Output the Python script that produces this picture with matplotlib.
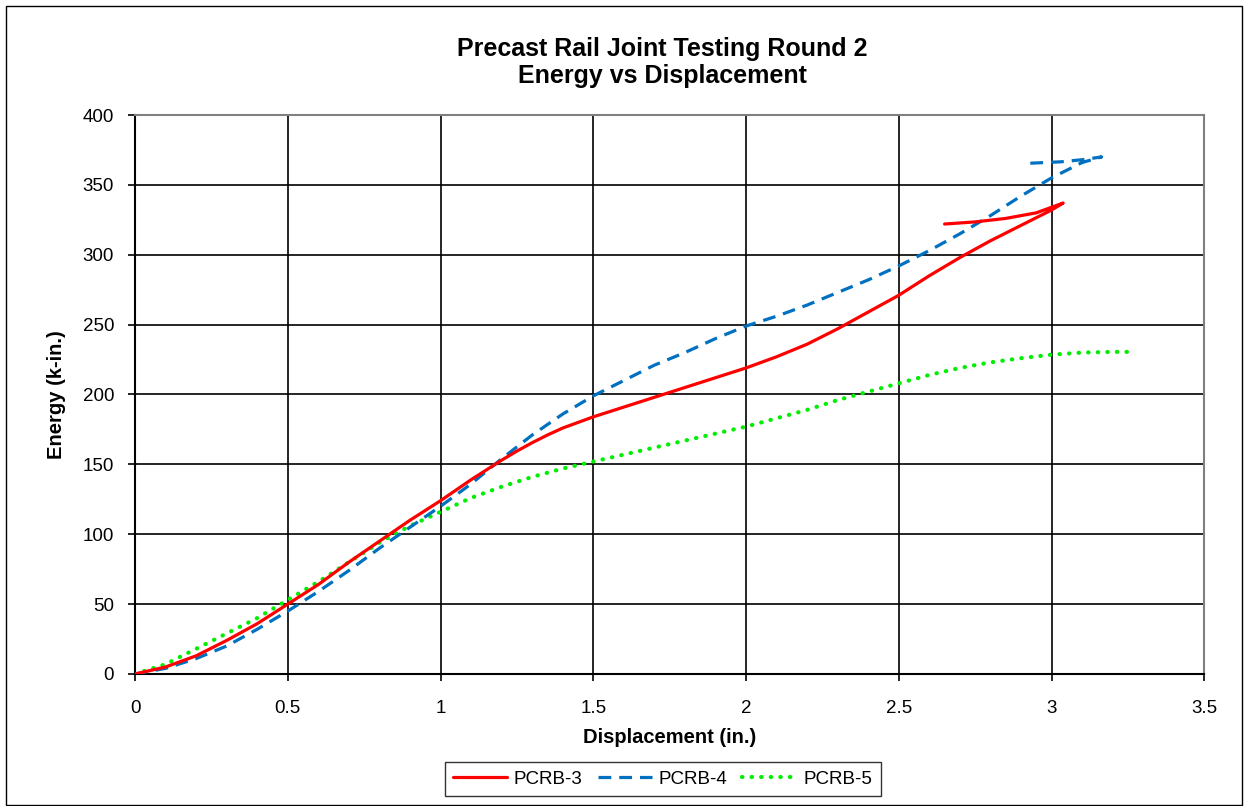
import matplotlib
matplotlib.use("Agg")
import matplotlib.pyplot as plt
from matplotlib.patches import Rectangle

plt.rcParams["font.family"] = ["Liberation Sans", "DejaVu Sans"]

# PCRB-3 (red, solid) - loading branch then unloading back-track
pcrb3_x = [0, 0.1, 0.2, 0.3, 0.4, 0.5, 0.6, 0.7, 0.8, 0.9, 1.0, 1.1, 1.2, 1.25, 1.3,
           1.35, 1.4, 1.5, 1.6, 1.7, 1.8, 1.9, 2.0, 2.1, 2.2, 2.3, 2.4, 2.5, 2.6,
           2.7, 2.8, 2.9, 3.0, 3.038, 2.95, 2.85, 2.75, 2.65]
pcrb3_y = [0, 5, 13, 24, 36, 50, 64, 80, 95, 110, 124, 139, 153, 159.5, 165.5,
           171, 176, 184, 191, 198, 205, 212, 219, 227, 236, 247, 259, 271, 285,
           298, 310, 321, 332, 337, 330, 326, 323.5, 322]

# PCRB-4 (blue, dashed)
pcrb4_x = [0, 0.1, 0.2, 0.3, 0.4, 0.5, 0.6, 0.7, 0.8, 0.9, 1.0, 1.1, 1.2, 1.3,
           1.4, 1.5, 1.6, 1.7, 1.8, 1.9, 2.0, 2.1, 2.2, 2.3, 2.4, 2.5, 2.6,
           2.7, 2.8, 2.9, 3.0, 3.1, 3.164, 3.10, 3.03, 2.93]
pcrb4_y = [0, 4, 11, 20, 32, 45, 59, 74, 90, 105, 120, 136, 154, 171,
           186, 199, 210, 221, 230, 240, 249, 256, 264, 273, 282, 292, 303,
           315, 328, 342, 355, 366, 370, 368, 366.5, 365.5]

# PCRB-5 (green, dotted)
pcrb5_x = [0, 0.1, 0.2, 0.3, 0.4, 0.5, 0.6, 0.7, 0.8, 0.9, 1.0, 1.1, 1.2, 1.3,
           1.4, 1.5, 1.6, 1.7, 1.8, 1.9, 2.0, 2.1, 2.2, 2.3, 2.4, 2.5, 2.6,
           2.7, 2.8, 2.9, 3.0, 3.1, 3.2, 3.265]
pcrb5_y = [0, 7, 18, 29, 40, 53, 66, 80, 94, 106, 116, 126, 134, 141,
           147, 152, 157, 162, 167, 172, 177, 183, 189, 196, 202, 208, 214,
           219, 223, 226, 228.5, 230, 230.5, 230.5]

x_ticks = [0, 0.5, 1, 1.5, 2, 2.5, 3, 3.5]
x_tick_labels = ["0", "0.5", "1", "1.5", "2", "2.5", "3", "3.5"]
y_ticks = [0, 50, 100, 150, 200, 250, 300, 350, 400]

fig = plt.figure(figsize=(12.49, 8.06), dpi=100)
fig.patch.set_facecolor("white")

# outer chart border
fig.patches.append(Rectangle((0.005, 0.001), 0.989, 0.991, transform=fig.transFigure,
                             fill=False, edgecolor="black", linewidth=1.0))

ax = fig.add_axes([0.1081, 0.1638, 0.8561, 0.6935])

ax.plot(pcrb3_x, pcrb3_y, color="#ff0000", linewidth=2.3, label="PCRB-3",
        solid_capstyle="round", solid_joinstyle="round", zorder=4)
ax.plot(pcrb4_x, pcrb4_y, color="#0070c0", linewidth=2.3, label="PCRB-4",
        linestyle=(0, (4, 2.5)), zorder=3)
ax.plot(pcrb5_x, pcrb5_y, color="#00ee00", linewidth=3.0, label="PCRB-5",
        linestyle=(0, (0.1, 2.2)), dash_capstyle="round", zorder=2)

ax.set_xlim(0, 3.5)
ax.set_ylim(0, 400)
ax.set_xticks(x_ticks)
ax.set_xticklabels(x_tick_labels)
ax.set_yticks(y_ticks)
ax.grid(True, color="black", linewidth=1.2)
ax.set_axisbelow(True)

ax.tick_params(axis="x", direction="out", length=5, width=1.2, pad=14, labelsize=13.5)
ax.tick_params(axis="y", direction="out", length=5, width=1.2, pad=10, labelsize=13.5)

for side in ["left", "bottom"]:
    ax.spines[side].set_color("black")
    ax.spines[side].set_linewidth(1.5)
for side in ["top", "right"]:
    ax.spines[side].set_color("#808080")
    ax.spines[side].set_linewidth(1.5)

ax.set_xlabel("Displacement (in.)", fontsize=14.5, fontweight="bold", labelpad=8)
ax.set_ylabel("Energy (k-in.)", fontsize=14.5, fontweight="bold", labelpad=12)

fig.text(0.530, 0.9225, "Precast Rail Joint Testing Round 2\nEnergy vs Displacement",
         ha="center", va="center", fontsize=18, fontweight="bold", linespacing=1.15)

leg = fig.legend(loc="center", bbox_to_anchor=(0.5305, 0.0335), ncol=3,
                 fontsize=13.5, frameon=True, fancybox=False, edgecolor="black",
                 handlelength=2.9, columnspacing=0.8, handletextpad=0.35,
                 borderpad=0.45)
leg.get_frame().set_linewidth(1.0)

fig.savefig("out.png", dpi=100)
